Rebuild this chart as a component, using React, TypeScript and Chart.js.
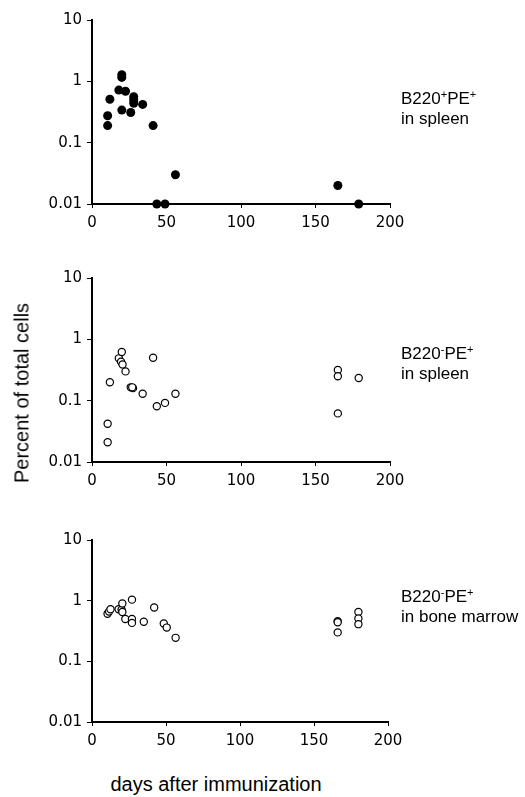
import React, { useEffect, useRef } from "react";
import { Chart, registerables } from "chart.js";

Chart.register(...registerables);

// Panel 1: B220+PE+ in spleen (filled markers)
const spleenPosX = [10.5, 10.5, 12, 18, 20, 20, 22.5, 20, 26, 28, 28, 28, 34, 41, 43.5, 49, 56, 165, 179];
const spleenPosY = [0.275, 0.19, 0.51, 0.72, 1.28, 1.16, 0.69, 0.34, 0.31, 0.56, 0.5, 0.44, 0.42, 0.19, 0.01, 0.01, 0.03, 0.02, 0.01];

// Panel 2: B220-PE+ in spleen (open markers)
const spleenNegX = [10.5, 10.5, 12, 18, 20, 19.5, 20.5, 22.5, 26, 27.5, 27, 34, 41, 43.5, 49, 56, 165, 165, 165, 179];
const spleenNegY = [0.042, 0.021, 0.2, 0.49, 0.62, 0.43, 0.39, 0.3, 0.165, 0.16, 0.165, 0.13, 0.5, 0.081, 0.092, 0.13, 0.316, 0.25, 0.062, 0.234];

// Panel 3: B220-PE+ in bone marrow (open markers)
const marrowX = [10.5, 11.5, 12.5, 18, 20, 20.5, 20.5, 22.5, 27, 27, 27, 35, 42, 48.5, 50.5, 56.5, 166, 166, 166, 180, 180, 180];
const marrowY = [0.61, 0.66, 0.72, 0.72, 0.71, 0.9, 0.65, 0.5, 1.04, 0.5, 0.43, 0.45, 0.77, 0.42, 0.36, 0.244, 0.46, 0.44, 0.3, 0.65, 0.51, 0.41];

const yTickValues = [0.01, 0.1, 1, 10];
const yTickLabels = ["0.01", "0.1", "1", "10"];
const xTickValues = [0, 50, 100, 150, 200];

const xTitle = "days after immunization";
const yTitle = "Percent of total cells";

const TICK_FONT = { family: "DejaVu Sans", size: 15 };

function makeConfig(xs: number[], ys: number[], filled: boolean, padTop: number, padRight: number, xAxisH: number): any {
  const data = xs.map((x, i) => ({ x, y: ys[i] }));
  return {
    type: "scatter",
    data: {
      datasets: [
        {
          data,
          pointRadius: filled ? 4.5 : 3.6,
          pointBackgroundColor: filled ? "#000" : "#fff",
          pointBorderColor: "#000",
          pointBorderWidth: filled ? 0 : 1.2,
          clip: false,
        },
      ],
    },
    options: {
      animation: false,
      responsive: false,
      maintainAspectRatio: false,
      layout: { padding: { top: padTop, right: padRight, left: 0, bottom: 0 } },
      plugins: { legend: { display: false }, tooltip: { enabled: false } },
      scales: {
        x: {
          type: "linear",
          min: 0,
          max: 200,
          afterBuildTicks: (s: any) => {
            s.ticks = xTickValues.map((v) => ({ value: v }));
          },
          afterFit: (s: any) => {
            s.height = xAxisH;
          },
          grid: { display: true, drawOnChartArea: false, drawTicks: true, tickLength: 4, color: "#000", lineWidth: 1 },
          border: { display: true, color: "#000", width: 2 },
          ticks: { color: "#000", font: TICK_FONT, padding: 6, maxRotation: 0, autoSkip: false },
        },
        y: {
          type: "logarithmic",
          min: 0.01,
          max: 10,
          afterBuildTicks: (s: any) => {
            s.ticks = yTickValues.map((v) => ({ value: v }));
          },
          afterFit: (s: any) => {
            s.width = 92;
          },
          grid: { display: true, drawOnChartArea: false, drawTicks: true, tickLength: 5, color: "#000", lineWidth: 1 },
          border: { display: true, color: "#000", width: 2 },
          ticks: {
            color: "#000",
            font: TICK_FONT,
            padding: 5,
            autoSkip: false,
            callback: (v: number) => {
              const i = yTickValues.findIndex((t) => Math.abs(t - v) / t < 1e-6);
              return i >= 0 ? yTickLabels[i] : "";
            },
          },
        },
      },
    },
  };
}

function Panel(props: { xs: number[]; ys: number[]; filled: boolean; top: number; height: number; padTop: number; padRight: number; xAxisH: number }) {
  const ref = useRef<HTMLCanvasElement | null>(null);
  useEffect(() => {
    if (!ref.current) return;
    const chart = new Chart(ref.current, makeConfig(props.xs, props.ys, props.filled, props.padTop, props.padRight, props.xAxisH));
    return () => chart.destroy();
  }, []);
  return (
    <canvas
      ref={ref}
      width={525}
      height={props.height}
      style={{ position: "absolute", left: 0, top: props.top, width: 525, height: props.height }}
    />
  );
}

const labelStyle: React.CSSProperties = {
  position: "absolute",
  left: 401,
  fontFamily: "'Liberation Sans', Arial, sans-serif",
  fontSize: 17,
  lineHeight: "20px",
  color: "#000",
  whiteSpace: "nowrap",
};
const supStyle: React.CSSProperties = { fontSize: 11, verticalAlign: "6px", lineHeight: 0 };

export default function App() {
  useEffect(() => {
    document.body.style.margin = "0";
  }, []);
  return (
    <div style={{ position: "relative", width: 525, height: 797, background: "#fff", overflow: "hidden" }}>
      <Panel xs={spleenPosX} ys={spleenPosY} filled={true} top={0} height={240} padTop={20} padRight={135} xAxisH={36} />
      <Panel xs={spleenNegX} ys={spleenNegY} filled={false} top={255} height={240} padTop={23} padRight={135} xAxisH={33} />
      <Panel xs={marrowX} ys={marrowY} filled={false} top={515} height={245} padTop={25} padRight={137} xAxisH={23 + 15} />

      <div style={{ ...labelStyle, top: 89 }}>
        B220<span style={supStyle}>+</span>PE<span style={supStyle}>+</span>
        <br />
        in spleen
      </div>
      <div style={{ ...labelStyle, top: 344 }}>
        B220<span style={supStyle}>-</span>PE<span style={supStyle}>+</span>
        <br />
        in spleen
      </div>
      <div style={{ ...labelStyle, top: 587 }}>
        B220<span style={supStyle}>-</span>PE<span style={supStyle}>+</span>
        <br />
        in bone marrow
      </div>

      <div
        style={{
          position: "absolute",
          left: 22,
          top: 393,
          transform: "translate(-50%, -50%) rotate(-90deg)",
          fontFamily: "'Liberation Sans', Arial, sans-serif",
          fontSize: 20,
          whiteSpace: "nowrap",
          color: "#000",
        }}
      >
        {yTitle}
      </div>
      <div
        style={{
          position: "absolute",
          left: 216,
          top: 784,
          transform: "translate(-50%, -50%)",
          fontFamily: "'Liberation Sans', Arial, sans-serif",
          fontSize: 20,
          whiteSpace: "nowrap",
          color: "#000",
        }}
      >
        {xTitle}
      </div>
    </div>
  );
}
